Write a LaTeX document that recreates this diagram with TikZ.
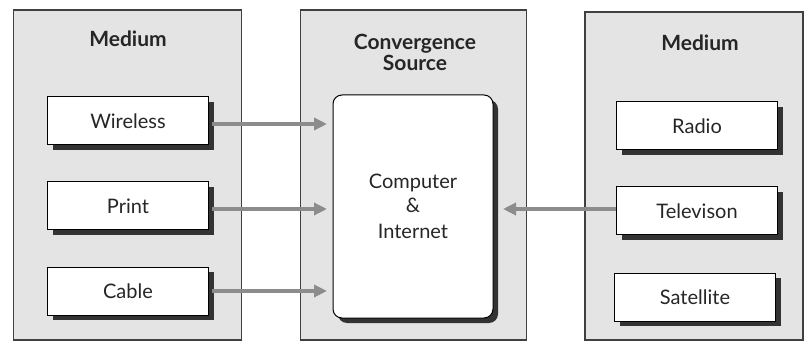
\documentclass[tikz,border=0pt]{standalone}
\usepackage{fontspec}
\setmainfont{Lato}
\usepackage{tikz}
\usetikzlibrary{positioning,shadows,arrows.meta}

\definecolor{panelgray}{HTML}{E4E4E4}
\definecolor{flowgray}{HTML}{8C8C8C}

\tikzstyle{panel}=[draw=black!75, fill=panelgray, line width=1.2pt,
        minimum width=228pt, minimum height=330pt, inner sep=0pt]
\tikzstyle{heading}=[font=\fontsize{21}{23}\selectfont\bfseries,
        text=black!85, align=center]
\tikzstyle{medbox}=[draw=black, fill=white, line width=1pt,
        minimum width=161pt, minimum height=48pt,
        font=\fontsize{20}{24}\selectfont, text=black!85,
        drop shadow={shadow xshift=5pt, shadow yshift=-5pt,
        fill=black!80, opacity=1}]
\tikzstyle{flow}=[draw=flowgray, line width=4pt,
        -{Triangle[length=13pt, width=12pt]}]

\begin{document}
\begin{tikzpicture}[x=1pt, y=-1pt]
        \useasboundingbox (0,0) rectangle (804,350);

        % three panels
        \node[panel] (left) at (127.5,175) {};
        \node[panel, minimum width=226pt] (mid) at (413.5,175) {};
        \node[panel, minimum width=218pt, minimum height=328pt] (right)
            at (694,176) {};

        \node[heading] at (128,39) {Medium};
        \node[heading] at (415,52) {Convergence\\[-2pt]Source};
        \node[heading] at (700,43) {Medium};

        % media on the left
        \node[medbox] (wireless) at (128,121) {Wireless};
        \node[medbox, below=36pt of wireless] (print) {Print};
        \node[medbox, below=36pt of print] (cable) {Cable};

        % media on the right
        \node[medbox] (radio) at (697,126) {Radio};
        \node[medbox, below=36pt of radio] (tv) {Televison};
        \node[medbox, below=37pt of tv, xshift=-2pt] (sat) {Satellite};

        % convergence source
        \node[medbox, rounded corners=9pt, minimum width=160pt,
            minimum height=223pt, align=center] (hub) at (413,206.5)
            {Computer\\[0pt]\&\\[2pt]Internet};

        \coordinate (wend) at (327,124);
        \coordinate (pend) at (327,209);
        \coordinate (cend) at (327,291);
        \coordinate (tend) at (503,209);

        \draw[flow] ([xshift=3pt]wireless.east |- wend) -- (wend);
        \draw[flow] ([xshift=3pt]print.east |- pend) -- (pend);
        \draw[flow] ([xshift=3pt]cable.east |- cend) -- (cend);
        \draw[flow] (tv.west |- tend) -- (tend);

    \end{tikzpicture}
\end{document}
